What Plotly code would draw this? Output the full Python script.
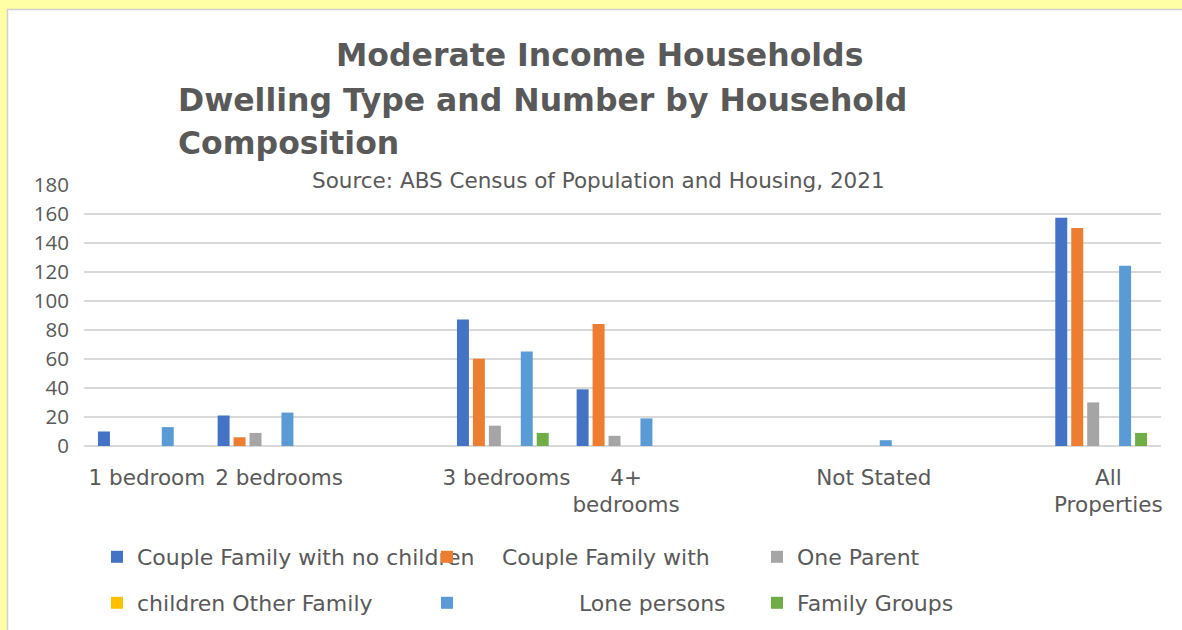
import plotly.graph_objects as go

# Dwelling categories (empty strings are spacer slots on the category axis)
categories = ["1 bedroom", "2 bedrooms", "", "3 bedrooms", "4+<br>bedrooms", "", "Not Stated", "", "All<br>Properties"]

# Household counts per dwelling category
couple_no_children = [10, 21, None, 87, 39, None, 0, None, 157]
couple_with_children = [0, 6, None, 60, 84, None, 0, None, 150]
one_parent = [0, 9, None, 14, 7, None, 0, None, 30]
other_family = [0, 0, None, 0, 0, None, 0, None, 0]
lone_persons = [13, 23, None, 65, 19, None, 4, None, 124]
family_groups = [0, 0, None, 9, 0, None, 0, None, 9]

# Legend labels as they appear on the chart
legend_names = [
    "Couple Family with no children",
    "\u00a0" * 5 + "Couple Family with",
    "One Parent",
    "children Other Family",
    "\u00a0" * 16 + "Lone persons",
    "Family Groups",
]
series = [couple_no_children, couple_with_children, one_parent,
          other_family, lone_persons, family_groups]
colors = ["#4472C4", "#ED7D31", "#A5A5A5", "#FFC000", "#5B9BD5", "#70AD47"]

W, H = 1182, 630
ML, MR, MT, MB = 84, 21, 184, 184
PW, PH = W - ML - MR, H - MT - MB


def fx(px):
    return (px - ML) / PW


def fy(py):
    return (H - MB - py) / PH


TEXT = "#595959"
FONT = "DejaVu Sans"

xs = list(range(len(categories)))

# small rightward nudges of the tick labels within their slots
label_shift = [0.025, 0.13, 0, 0.03, 0.03, 0, 0.1, 0, 0.06]
tickvals = [x + s for x, s in zip(xs, label_shift)]

fig = go.Figure()
for i, (name, vals, col) in enumerate(zip(legend_names, series, colors)):
    fig.add_trace(go.Bar(
        x=xs, y=vals, name=name,
        marker=dict(color=col, line=dict(width=0)),
        legend="legend" if i < 3 else "legend2",
    ))

legend_common = dict(
    orientation="h", xanchor="left", yanchor="middle",
    x=fx(97), entrywidth=285, entrywidthmode="pixels",
    font=dict(family=FONT, size=22, color=TEXT),
    bgcolor="rgba(0,0,0,0)", borderwidth=0, traceorder="normal",
)

fig.update_layout(
    width=W, height=H,
    margin=dict(l=ML, r=MR, t=MT, b=MB, autoexpand=False),
    paper_bgcolor="#FFFFA6",
    plot_bgcolor="white",
    barmode="group", bargap=0.2, bargroupgap=0.25,
    legend=dict(legend_common, y=fy(557)),
    legend2=dict(legend_common, y=fy(603)),
    xaxis=dict(
        tickmode="array", tickvals=tickvals, ticktext=categories,
        range=[-0.5, len(categories) - 0.5],
        showgrid=False, zeroline=False, showline=False, ticks="",
        tickangle=0, automargin=False,
        tickfont=dict(family=FONT, size=21.5, color=TEXT),
        ticklabelstandoff=16,
    ),
    yaxis=dict(
        range=[0, 180.3], dtick=20, showgrid=True,
        gridcolor="#D9D9D9", gridwidth=1.5,
        zeroline=True, zerolinecolor="#D9D9D9", zerolinewidth=1.5,
        showline=False, ticks="", automargin=False,
        tickfont=dict(family="Open Sans", size=20.5, color=TEXT),
        ticklabelstandoff=14,
    ),
    shapes=[dict(
        type="rect", xref="paper", yref="paper", layer="below",
        x0=fx(7.5), x1=fx(1200), y0=fy(660), y1=fy(9.5),
        fillcolor="white", line=dict(color="#D0D0D0", width=1.5),
    )],
    annotations=[
        dict(text="<b>Moderate Income Households</b>", xref="paper", yref="paper",
             x=fx(599), y=fy(55), xanchor="center", yanchor="middle", showarrow=False,
             font=dict(family=FONT, size=31.5, color=TEXT)),
        dict(text="<b>Dwelling Type and Number by Household</b>", xref="paper", yref="paper",
             x=fx(176), y=fy(100), xanchor="left", yanchor="middle", showarrow=False,
             font=dict(family=FONT, size=31.5, color=TEXT)),
        dict(text="<b>Composition</b>", xref="paper", yref="paper",
             x=fx(176), y=fy(143), xanchor="left", yanchor="middle", showarrow=False,
             font=dict(family=FONT, size=31.5, color=TEXT)),
        dict(text="Source: ABS Census of Population and Housing, 2021", xref="paper", yref="paper",
             x=fx(598), y=fy(180), xanchor="center", yanchor="middle", showarrow=False,
             font=dict(family=FONT, size=21.5, color=TEXT)),
    ],
)

fig.write_html("out.html")
